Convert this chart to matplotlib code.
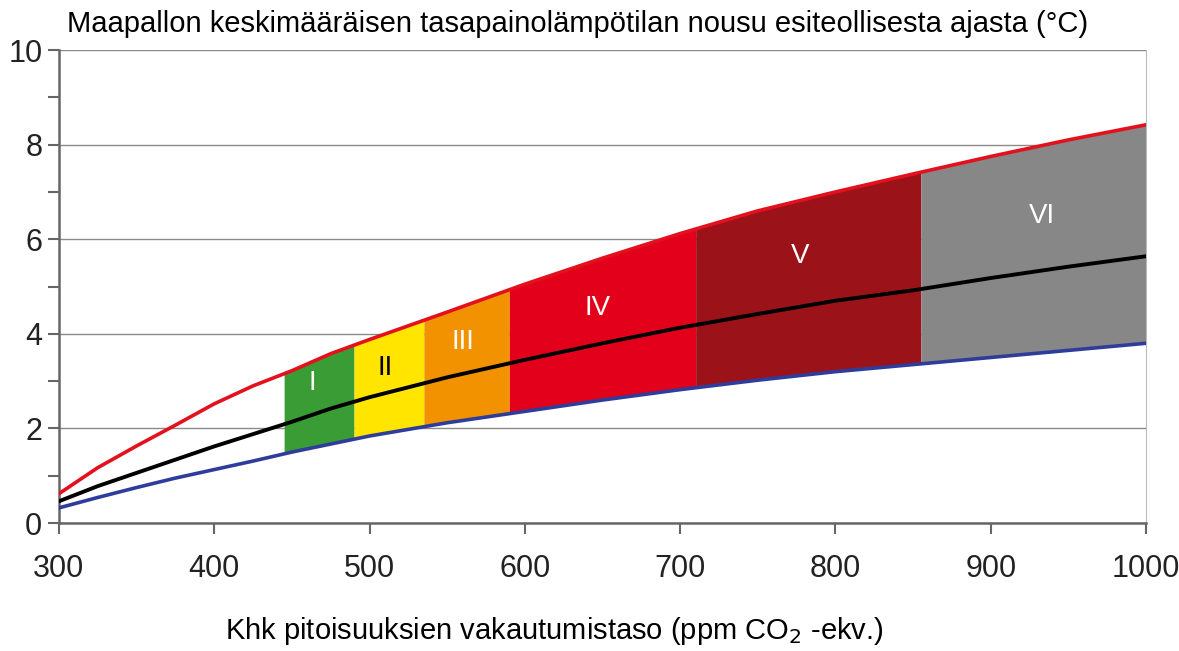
import numpy as np
import matplotlib.pyplot as plt
from matplotlib.ticker import MultipleLocator

plt.rcParams["font.family"] = ["Liberation Sans", "DejaVu Sans"]

# data
conc = [300, 325, 350, 375, 400, 425, 450, 475, 500, 550, 600, 650, 700, 750, 800, 850, 900, 950, 1000]
upper = [0.62, 1.17, 1.63, 2.07, 2.52, 2.9, 3.22, 3.58, 3.88, 4.46, 5.05, 5.6, 6.12, 6.6, 7.0, 7.38, 7.75, 8.1, 8.42]
best = [0.46, 0.78, 1.06, 1.34, 1.62, 1.88, 2.14, 2.42, 2.66, 3.08, 3.45, 3.8, 4.13, 4.42, 4.7, 4.92, 5.18, 5.42, 5.64]
lower = [0.32, 0.54, 0.75, 0.95, 1.13, 1.31, 1.5, 1.67, 1.84, 2.12, 2.36, 2.6, 2.82, 3.02, 3.2, 3.35, 3.5, 3.65, 3.8]

cat_names = ["I", "II", "III", "IV", "V", "VI"]
cat_edges = [445, 490, 535, 590, 710, 855, 1000]
cat_colors = ["#3a9c35", "#ffe500", "#f39200", "#e2001a", "#9b1219", "#878787"]
cat_text_colors = ["white", "black", "white", "white", "white", "white"]
cat_label_x = [463, 510, 560, 647, 777, 933]
cat_label_y = [2.96, 3.28, 3.83, 4.55, 5.64, 6.5]

fig = plt.figure(figsize=(11.79, 6.51), dpi=100)
ax = fig.add_axes([0.05, 0.1966, 0.922, 0.7265])

conc_a = np.array(conc, dtype=float)
for i, name in enumerate(cat_names):
    x0, x1 = cat_edges[i], cat_edges[i + 1]
    xs = np.concatenate([[x0], conc_a[(conc_a > x0) & (conc_a < x1)], [x1]])
    lo = np.interp(xs, conc, lower)
    hi = np.interp(xs, conc, upper)
    ax.fill_between(xs, lo, hi, color=cat_colors[i], lw=0, zorder=2)
    ax.text(cat_label_x[i], cat_label_y[i], name, color=cat_text_colors[i],
            fontsize=20, ha="center", va="center", zorder=5)

ax.plot(conc, upper, color="#e3101e", lw=2.6, zorder=4)
ax.plot(conc, lower, color="#2e3d9c", lw=2.6, zorder=4)
ax.plot(conc, best, color="black", lw=2.8, zorder=4)

ax.set_xlim(300, 1000)
ax.set_ylim(0, 10)
ax.set_xticks(range(300, 1001, 100))
ax.set_yticks(range(0, 11, 2))
ax.yaxis.set_minor_locator(MultipleLocator(1))
ax.grid(axis="y", which="major", color="#8a8a8a", lw=1.0, zorder=1)
ax.tick_params(axis="both", which="both", direction="out", length=8, width=1.5,
               color="#666666", labelsize=22, labelcolor="#222222")
ax.tick_params(axis="x", pad=14)
ax.tick_params(axis="y", pad=4)
for s in ["left", "bottom"]:
    ax.spines[s].set_color("#666666")
    ax.spines[s].set_linewidth(1.8)
ax.spines["right"].set_color("#bbbbbb")
ax.spines["top"].set_visible(False)

fig.text(0.49, 0.963, "Maapallon keskimääräisen tasapainolämpötilan nousu esiteollisesta ajasta (°C)",
         ha="center", va="center", fontsize=21)
fig.text(0.47, 0.03, "Khk pitoisuuksien vakautumistaso (ppm CO$_2$ -ekv.)",
         ha="center", va="center", fontsize=21)

fig.savefig("out.png", dpi=100)
